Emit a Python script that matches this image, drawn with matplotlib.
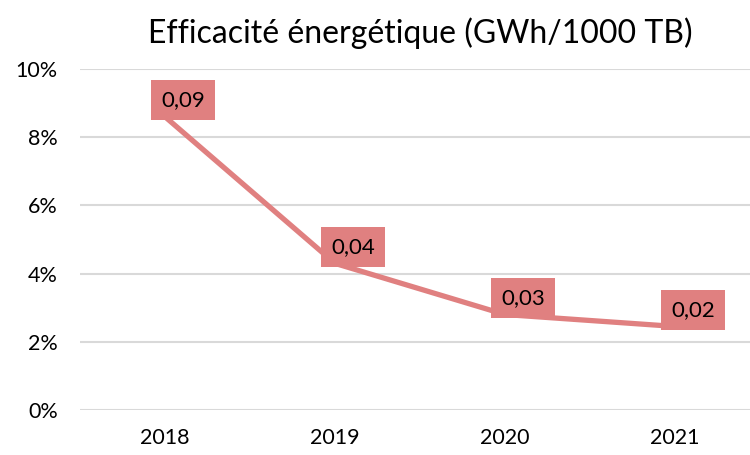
import matplotlib.pyplot as plt
import numpy as np

plt.rcParams['font.family'] = ['Lato', 'DejaVu Sans']

years = ['2018', '2019', '2020', '2021']
values = np.array([0.086, 0.043, 0.028, 0.0245])
x = np.arange(0, len(years), 1)

plt.figure(figsize=(7.5, 4.55), dpi=100)
plt.axes([80/750, 45/455, 680/750, 341/455])

plt.plot(x, values, color='#e08080', linewidth=3.8, solid_capstyle='butt')

# étiquettes de données
for i in range(len(values)):
    plt.annotate(('%.2f' % values[i]).replace('.', ','), (x[i], values[i]),
                 xytext=(13, 12), textcoords='offset points', ha='center', va='center',
                 fontsize=16, bbox=dict(boxstyle='square,pad=0.45', fc='#e08080', ec='none'))

plt.title("Efficacité énergétique (GWh/1000 TB)", fontsize=23, pad=19)
plt.xlim(-0.5, 3.5)
plt.ylim(0, 0.1)
plt.xticks(x, years, fontsize=15.5)
plt.yticks(np.arange(0, 0.11, 0.02), ['%d%%' % v for v in range(0, 11, 2)], fontsize=15.5)
plt.tick_params(axis='y', length=0, pad=16)
plt.tick_params(axis='x', length=0, pad=13)
plt.grid(axis='y', color='#d9d9d9', linewidth=1.5)
plt.gca().set_axisbelow(True)
for s in plt.gca().spines.values():
    s.set_visible(False)

plt.savefig('out.png', dpi=100)
